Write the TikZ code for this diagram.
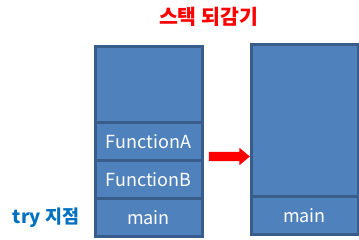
\documentclass[tikz,border=0pt]{standalone}
\usepackage{fontspec}
\setmainfont{Noto Sans CJK KR}
\usetikzlibrary{shapes.arrows}
\definecolor{cellfill}{HTML}{4F81BD}
\definecolor{celledge}{HTML}{385D8A}
\definecolor{trytext}{HTML}{0070C0}
\tikzset{
  cell/.style={draw=celledge, fill=cellfill, line width=3pt, minimum width=107pt,
    inner sep=0pt, text=white, font=\fontsize{18}{21}\selectfont},
}

\begin{document}
\begin{tikzpicture}[x=1pt,y=-1pt]
		\useasboundingbox (0,0) rectangle (359,240);
		% stack before
		\node[cell, minimum height=76pt] (topA) at (148.5,85) {};
		\node[cell, minimum height=38pt] (funA) at (148.5,142) {FunctionA};
		\node[cell, minimum height=38pt] (funB) at (148.5,180) {FunctionB};
		\node[cell, minimum height=38pt] (mainA) at (148.5,218) {main};
		% stack after
		\node[cell, minimum height=152pt] (topB) at (304.5,121) {};
		\node[cell, minimum height=38pt] (mainB) at (304.5,216) {main};
		% labels
		\node[text=red, font=\fontsize{20.5}{24}\selectfont\bfseries] (title) at (208.5,17) {스택 되감기};
		\node[text=trytext, font=\fontsize{18.5}{22}\selectfont\bfseries] (try) at (46,218) {try 지점};
		\node[single arrow, fill=red, inner sep=4.5pt, minimum height=41pt,
			single arrow head extend=4pt, single arrow tip angle=80] (arr) at (226.5,156.5) {};
	\end{tikzpicture}
\end{document}
